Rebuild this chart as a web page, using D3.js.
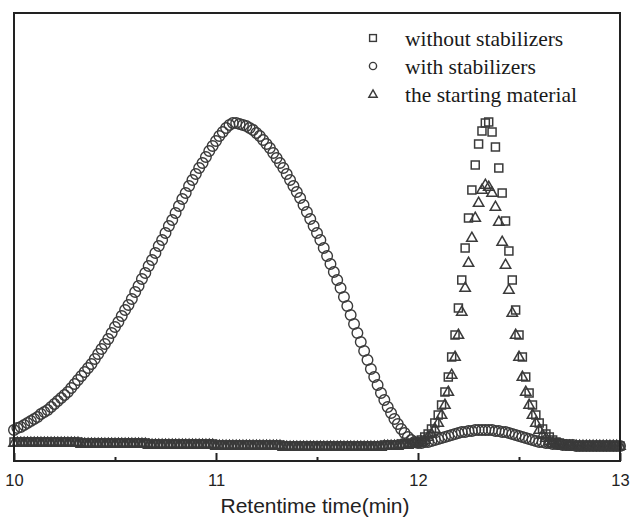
<!DOCTYPE html>
<html><head><meta charset="utf-8">
<script src="https://cdn.jsdelivr.net/npm/d3@7"></script>
<style>body{margin:0;background:#fff}</style>
</head><body><svg id="c" width="631" height="518"></svg>
<script>
// sampling: one point per second from 10 min
const timeStart = 10, timeStep = 1 / 60;

const withoutStabilizers = [
19,19,19,19,19,19,19,19,19,19, 19,19,19,19,19,19,19,19,19,19,
18,18,18,18,18,18,18,18,18,18, 18,18,18,18,18,18,18,18,18,18,
17,17,17,17,17,17,17,17,17,17, 17,17,17,17,17,17,17,17,17,17,
16,16,16,16,16,16,16,16,16,16, 16,16,16,16,16,16,16,16,16,16,
15,15,15,15,15,15,15,15,15,15, 15,15,15,15,15,15,15,15,15,15,
15,15,15,15,15,15,15,15,15,15, 16,16,16,16,16,17,17,17,18,18,
19,21,24,27,32,38,46,56,69,84, 104,126,153,181,213,243,271,296,317,330,
338,339,329,314,293,268,240,210,181,151, 126,104,84,68,56,46,38,32,27,24,
21,19,18,17,16,15,15,15,15,15, 15,15,15,15,15,15,15,15,15,15,15
];
const withStabilizers = [
31,33,34,36,38,40,42,44,47,49, 51,54,57,60,63,66,69,73,77,81,
85,89,93,97,102,107,112,117,122,128, 134,139,145,151,156,162,169,175,182,188,
195,201,208,215,221,228,235,241,248,255, 262,268,275,281,287,293,298,304,310,315,
320,325,329,333,336,338,338,337,336,335, 333,331,328,325,321,317,313,308,303,298,
293,287,281,275,269,263,256,249,242,235, 228,221,213,205,197,189,181,173,164,155,
146,137,128,119,110,101,92,84,76,68, 61,54,48,42,37,32,28,24,21,19,
18,18,19,19,20,21,22,23,24,25, 26,27,28,29,29,30,30,31,31,31,
31,31,31,30,30,29,29,28,27,26, 25,24,23,22,21,20,19,19,18,18,
17,17,17,16,16,16,16,15,15,15, 15,15,15,15,15,15,15,15,15,15,15
];
const startingMaterial = [
18,18,18,18,18,18,18,18,18,18, 18,18,18,18,18,18,18,18,18,18,
17,17,17,17,17,17,17,17,17,17, 17,17,17,17,17,17,17,17,17,17,
16,16,16,16,16,16,16,16,16,16, 16,16,16,16,16,16,16,16,16,16,
15,15,15,15,15,15,15,15,15,15, 15,15,15,15,15,15,15,15,15,15,
14,14,14,14,14,14,14,14,14,14, 14,14,14,14,14,14,14,14,14,14,
14,14,14,14,14,14,14,14,14,14, 15,15,15,15,15,16,16,16,17,17,
18,19,21,24,27,32,38,46,56,69, 86,104,126,149,173,198,223,243,258,271,
276,274,268,254,239,219,196,171,148,126, 104,84,69,56,46,38,31,26,23,20,
18,17,16,15,15,15,15,15,15,15, 15,15,15,15,15,15,15,15,15,15,15
];

const xTicks = [10, 11, 12, 13];
const xMinorTicks = [10.5, 11.5, 12.5];
const legendLabels = ["without stabilizers", "with stabilizers", "the starting material"];
const xTitle = "Retentime time(min)";

const svg = d3.select("#c");
const L = 14, R = 620, T = 13, B = 461;
const x = d3.scaleLinear().domain([10, 13]).range([L, R]);
const y = d3.scaleLinear().domain([0, 448]).range([B, T]);
const ink = "#3a3a3a";

const tOf = i => timeStart + i * timeStep;

// markers
const gS = svg.append("g").attr("fill", "none").attr("stroke", ink).attr("stroke-width", 1.5);
gS.selectAll("rect").data(withoutStabilizers).join("rect")
  .attr("x", (d, i) => x(tOf(i)) - 4).attr("y", d => y(d) - 4)
  .attr("width", 8).attr("height", 8);

const gC = svg.append("g").attr("fill", "none").attr("stroke", ink).attr("stroke-width", 1.4);
gC.selectAll("circle").data(withStabilizers).join("circle")
  .attr("cx", (d, i) => x(tOf(i))).attr("cy", d => y(d)).attr("r", 5.3);

const tri = "M0,-5.8L5.2,3.3L-5.2,3.3Z";
const gT = svg.append("g").attr("fill", "none").attr("stroke", ink).attr("stroke-width", 1.5);
gT.selectAll("path").data(startingMaterial).join("path")
  .attr("d", tri)
  .attr("transform", (d, i) => `translate(${x(tOf(i))},${y(d)})`);

// frame
svg.append("rect").attr("x", L).attr("y", T).attr("width", R - L).attr("height", B - T)
  .attr("fill", "none").attr("stroke", "#222").attr("stroke-width", 2);

// bottom axis
const ax = svg.append("g").attr("transform", `translate(0,${B})`)
  .call(d3.axisBottom(x).tickValues(xTicks).tickSize(-8).tickPadding(13).tickFormat(d3.format("d")));
ax.select(".domain").remove();
ax.selectAll("line").attr("stroke", "#222").attr("stroke-width", 2);
ax.selectAll("text").attr("font-family", "'Liberation Sans', Arial, sans-serif")
  .attr("font-size", 16.5).attr("fill", "#222");
const axm = svg.append("g").attr("transform", `translate(0,${B})`)
  .call(d3.axisBottom(x).tickValues(xMinorTicks).tickSize(-4).tickFormat(""));
axm.select(".domain").remove();
axm.selectAll("line").attr("stroke", "#222").attr("stroke-width", 2);

svg.append("text").attr("x", 315).attr("y", 513).attr("text-anchor", "middle")
  .attr("font-family", "'Liberation Sans', Arial, sans-serif").attr("font-size", 21)
  .attr("fill", "#222").text(xTitle);

// legend
const lg = svg.append("g");
const rows = [46, 74, 101.5];
legendLabels.forEach((lab, k) => {
  const cy = rows[k] - 8, cx = 373;
  if (k === 0) lg.append("rect").attr("x", cx - 3.4).attr("y", cy - 3.4).attr("width", 6.8).attr("height", 6.8)
    .attr("fill", "none").attr("stroke", ink).attr("stroke-width", 1.4);
  if (k === 1) lg.append("circle").attr("cx", cx).attr("cy", cy).attr("r", 3.6)
    .attr("fill", "none").attr("stroke", ink).attr("stroke-width", 1.4);
  if (k === 2) lg.append("path").attr("d", "M0,-4.6L4.2,2.8L-4.2,2.8Z")
    .attr("transform", `translate(${cx},${cy + 1})`)
    .attr("fill", "none").attr("stroke", ink).attr("stroke-width", 1.4);
  lg.append("text").attr("x", 405).attr("y", rows[k])
    .attr("font-family", "'Liberation Serif', 'Times New Roman', serif").attr("font-size", 21.5)
    .attr("fill", "#1a1a1a").text(lab);
});
</script>
</body></html>
